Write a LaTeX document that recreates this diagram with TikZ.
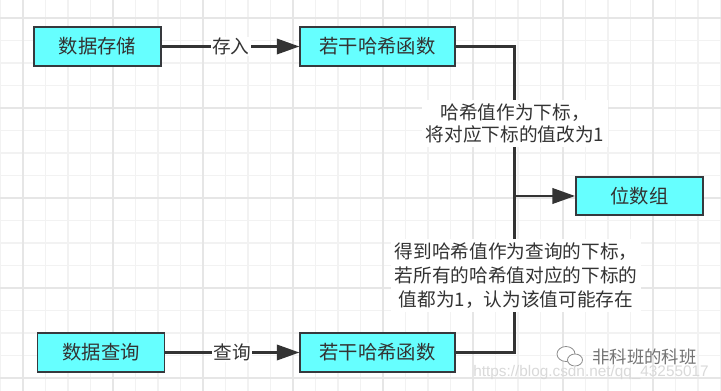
\documentclass[tikz,border=0pt]{standalone}
\usepackage{fontspec}
\setmainfont{Noto Sans CJK SC}
\newfontfamily\urlfont{Liberation Sans}
\usetikzlibrary{positioning}
\usetikzlibrary{arrows.meta}

\definecolor{boxcyan}{HTML}{66FFFF}
\definecolor{boxline}{HTML}{36393D}
\definecolor{inkgray}{HTML}{333333}
\definecolor{gridminor}{HTML}{F2F2F2}
\definecolor{gridmajor}{HTML}{E6E6E6}

\tikzset{
  box/.style={draw=boxline, line width=1.1pt, fill=boxcyan, text=inkgray,
    minimum width=95.5pt, minimum height=29pt, inner sep=0pt, font=\fontsize{14.5pt}{17pt}\selectfont},
  wire/.style={draw=inkgray, line width=2pt},
  flow/.style={wire, -{Triangle[length=17pt, width=11.5pt]}},
  elabel/.style={fill=white, text=inkgray, inner sep=1pt, font=\fontsize{14pt}{16pt}\selectfont},
  note/.style={fill=white, text=inkgray, align=center, inner sep=3pt},
}

\begin{document}
\begin{tikzpicture}[x=0.75pt, y=-0.75pt]
\useasboundingbox (0,0) rectangle (721,391);
\fill[white] (0,0) rectangle (721,391);

% grid
\foreach \i in {0,...,32} {
  \draw[gridminor, line width=0.8pt] ({0.5+22.5*\i},0) -- ++(0,391);
}
\foreach \j in {0,...,17} {
  \draw[gridminor, line width=0.8pt] (0,{-4.5+22.5*\j}) -- ++(721,0);
}
\foreach \i in {0,...,7} {
  \draw[gridmajor, line width=1pt] ({23+90*\i},0) -- ++(0,391);
}
\foreach \j in {0,...,4} {
  \draw[gridmajor, line width=1pt] (0,{18+90*\j}) -- ++(721,0);
}

\node[box] (store) at (97.5, 46.5) {数据存储};
\node[box, minimum width=116pt] (hashA) at (377.5, 46.5) {若干哈希函数};
\node[box, minimum height=28.5pt] (bits) at (639.5, 196) {位数组};
\node[box] (query) at (101, 352.5) {数据查询};
\node[box, minimum width=116pt] (hashB) at (377.5, 352.5) {若干哈希函数};
\coordinate (junc) at (514.5, 196);

\draw[flow] (store) -- node[elabel] {存入} (hashA);
\draw[flow] (query) -- node[elabel] {查询} (hashB);
\draw[wire] (hashA.east) -| (junc);
\draw[wire] (hashB.east) -| (junc);
\draw[flow] (junc) -- (bits.west);

\node[note, font=\fontsize{14pt}{16.5pt}\selectfont] (setnote) at (515, 123.5)
  {哈希值作为下标，\\将对应下标的值改为1};
\node[note, font=\fontsize{14pt}{18pt}\selectfont] (checknote) at (516, 275.5)
  {得到哈希值作为查询的下标，\\若所有的哈希值对应的下标的\\值都为1，认为该值可能存在};

% watermark
\draw[black!45, line width=0.6pt, fill=white] (566, 354) ellipse [x radius=9, y radius=7.5];
\draw[black!45, line width=0.6pt, fill=white] (575, 360) ellipse [x radius=7.5, y radius=6];
\node[text=black!55, font=\fontsize{13pt}{15pt}\selectfont, inner sep=0pt] (wmname) at (644.5, 357) {非科班的科班};
\node[text=black!15, font=\urlfont\fontsize{11.5pt}{13pt}\selectfont, inner sep=0pt] (wmurl) at (591, 373) {https://blog.csdn.net/qq\_43255017};
\end{tikzpicture}
\end{document}
